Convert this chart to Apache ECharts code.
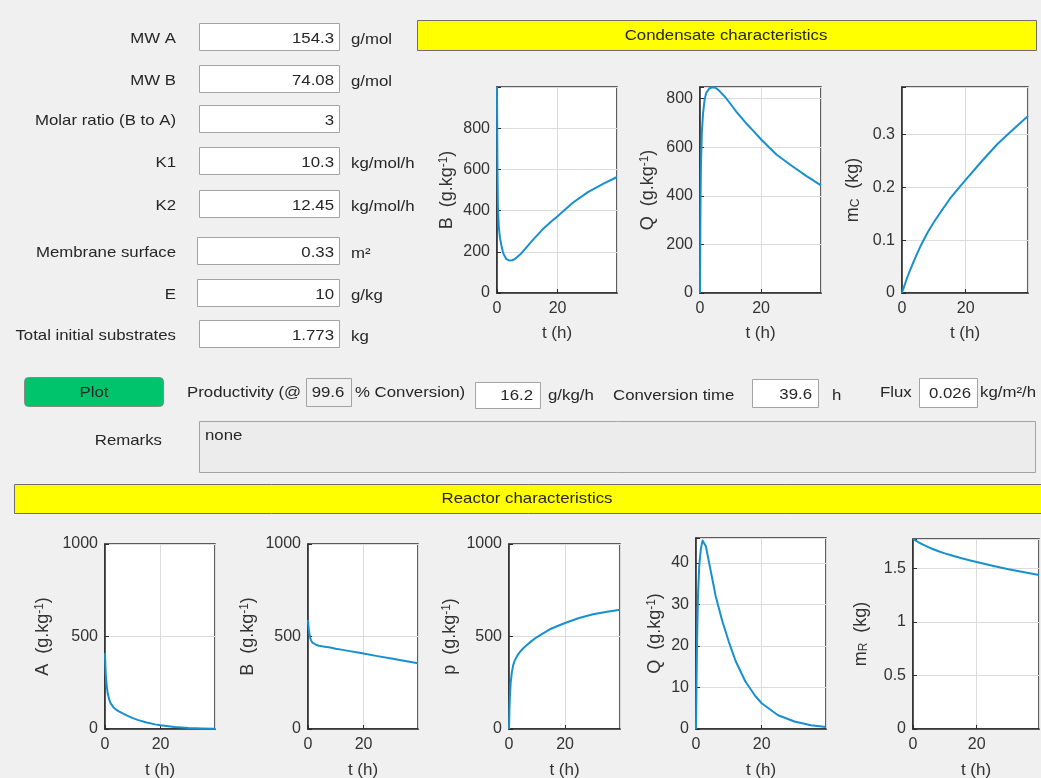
<!DOCTYPE html>
<html>
<head>
<meta charset="utf-8">
<script src="https://cdn.jsdelivr.net/npm/echarts@6/dist/echarts.min.js"></script>
<style>
html,body{margin:0;padding:0;background:#f0f0f0;}
#main{width:1041px;height:778px;}
</style>
</head>
<body>
<div id="main"></div>
<script>
// ---------------- DATA ----------------
const T = [0, 0.15, 0.3, 0.6, 1, 1.5, 2, 3, 4, 5, 6, 8, 10, 12, 15, 18, 20, 25, 30, 35, 39.6];
// Condensate characteristics
const condB  = [1000, 600, 420, 320, 265, 228, 195, 166, 158, 159, 166, 192, 226, 260, 308, 348, 373, 438, 490, 530, 563];
const condQ  = [0, 330, 520, 660, 740, 795, 822, 842, 847, 845, 836, 810, 778, 745, 700, 660, 632, 570, 524, 480, 443];
const condMC = [0, 0.003, 0.006, 0.011, 0.018, 0.027, 0.035, 0.05, 0.064, 0.078, 0.091, 0.114, 0.134, 0.152, 0.178, 0.2, 0.214, 0.249, 0.282, 0.31, 0.335];
// Reactor characteristics
const reactA  = [410, 340, 290, 235, 190, 160, 140, 118, 105, 95, 87, 72, 59, 48, 35, 25, 20, 11, 5, 2.5, 1];
const reactB  = [590, 560, 535, 505, 483, 468, 460, 454, 450, 447, 445, 440, 434, 429, 421, 413, 408, 394, 381, 368, 356];
const reactP  = [0, 100, 170, 250, 305, 345, 368, 398, 418, 435, 449, 475, 497, 516, 542, 561, 573, 600, 620, 634, 644];
const reactQ  = [0, 10, 20, 32, 39.5, 43.5, 45.4, 44, 40, 36, 32, 26, 21, 16.5, 11.5, 8, 6.2, 3.3, 1.8, 0.9, 0.5];
const reactMR = [1.773, 1.770, 1.767, 1.762, 1.755, 1.746, 1.738, 1.723, 1.709, 1.695, 1.682, 1.659, 1.639, 1.621, 1.595, 1.573, 1.559, 1.524, 1.491, 1.463, 1.438];
// Form texts
const formLabels = ['MW A', 'MW B', 'Molar ratio (B to A)', 'K1', 'K2', 'Membrane surface', 'E', 'Total initial substrates'];
const formValues = ['154.3', '74.08', '3', '10.3', '12.45', '0.33', '10', '1.773'];
const formUnits  = ['g/mol', 'g/mol', '', 'kg/mol/h', 'kg/mol/h', 'm²', 'g/kg', 'kg'];
const results = { conversion: '99.6', productivity: '16.2', convTime: '39.6', flux: '0.026', remarks: 'none' };

// ---------------- STYLE / LAYOUT ----------------
const FONT = '"Liberation Sans", Arial, Helvetica, sans-serif';
const SX = 1.12;
const TXT = '#262626';
const AX = '#2b2b2b';
const LINE = '#1790d0';

function txt(x, y, s, align) {
  return {
    type: 'text', x: x, y: y + 2, scaleX: SX, z: 10,
    style: { text: s, fontSize: 15, fontFamily: FONT, fill: TXT, align: align || 'left', verticalAlign: 'middle' }
  };
}
function box(x, y, w, h, fill, stroke, r) {
  return { type: 'rect', z: 5, shape: { x: x + 0.5, y: y + 0.5, width: w, height: h, r: r || 0 },
    style: { fill: fill, stroke: stroke || '#a3a3a3', lineWidth: 1 } };
}

const graphic = [];
const rowY   = [37, 79, 119, 161, 204, 251, 293, 334];
const boxX   = [199, 199, 199, 199, 199, 197, 197, 199];
formLabels.forEach((l, i) => {
  graphic.push(txt(176, rowY[i], l, 'right'));
  graphic.push(box(boxX[i], rowY[i] - 14, 339 - boxX[i], 27, '#ffffff'));
  graphic.push(txt(334, rowY[i], formValues[i], 'right'));
  if (formUnits[i]) graphic.push(txt(351, rowY[i] + 1, formUnits[i], 'left'));
});
// headers
graphic.push(box(417, 20, 619, 30, '#ffff00', '#6e6e6e'));
graphic.push(txt(726, 34, 'Condensate characteristics', 'center'));
graphic.push(box(14, 484, 1030, 29, '#ffff00', '#6e6e6e'));
graphic.push(txt(527, 497, 'Reactor characteristics', 'center'));
// plot button
graphic.push(box(24, 377, 139, 29, '#00c46b', '#8a8a8a', 4));
graphic.push(txt(94, 391, 'Plot', 'center'));
// results row
graphic.push(txt(187, 391, 'Productivity (@', 'left'));
graphic.push(box(306, 378, 45, 28, '#f0f0f0', '#a3a3a3'));
graphic.push(txt(328, 391, results.conversion, 'center'));
graphic.push(txt(355, 391, '% Conversion)', 'left'));
graphic.push(box(475, 382, 65, 26, '#ffffff'));
graphic.push(txt(533, 394, results.productivity, 'right'));
graphic.push(txt(548, 394, 'g/kg/h', 'left'));
graphic.push(txt(613, 394, 'Conversion time', 'left'));
graphic.push(box(752, 379, 66, 28, '#ffffff'));
graphic.push(txt(812, 393, results.convTime, 'right'));
graphic.push(txt(832, 394, 'h', 'left'));
graphic.push(txt(880, 391, 'Flux', 'left'));
graphic.push(box(919, 378, 58, 29, '#ffffff'));
graphic.push(txt(971, 392, results.flux, 'right'));
graphic.push(txt(980, 391, 'kg/m²/h', 'left'));
// remarks
graphic.push(txt(162, 439, 'Remarks', 'right'));
graphic.push(box(199, 421, 836, 51, '#ececec', '#a3a3a3'));
graphic.push(txt(205, 434, results.remarks, 'left'));

// ---------------- CHART PANELS ----------------
const panels = [
  { g: [497, 87, 120, 206], data: condB,  ymax: 1000,  yint: 200, labelMax: 800, name: '{n|B  (g.kg}{s|-1}{n|)}', gap: 41, xgap: 32 },
  { g: [700, 87, 121, 206], data: condQ,  ymax: 848,   yint: 200, labelMax: 800, name: '{n|Q  (g.kg}{s|-1}{n|)}', gap: 43, xgap: 32 },
  { g: [902, 87, 126, 206], data: condMC, ymax: 0.39,  yint: 0.1, labelMax: 0.3, name: '{n|m}{b|C}{n|  (kg)}', gap: 40, xgap: 32 },
  { g: [105, 544, 110, 185], data: reactA, ymax: 1000, yint: 500, labelMax: 1000, name: '{n|A  (g.kg}{s|-1}{n|)}', gap: 53, xgap: 33 },
  { g: [308, 544, 110, 185], data: reactB, ymax: 1000, yint: 500, labelMax: 1000, name: '{n|B  (g.kg}{s|-1}{n|)}', gap: 51, xgap: 33 },
  { g: [509, 544, 111, 185], data: reactP, ymax: 1000, yint: 500, labelMax: 1000, name: '{n|p  (g.kg}{s|-1}{n|)}', gap: 50, xgap: 33 },
  { g: [696, 538, 130, 191], data: reactQ, ymax: 46,   yint: 10,  labelMax: 40, name: '{n|Q  (g.kg}{s|-1}{n|)}', gap: 32, xgap: 33 },
  { g: [913, 539, 126, 190], data: reactMR, ymax: 1.773, yint: 0.5, labelMax: 1.5, name: '{n|m}{b|R}{n|  (kg)}', gap: 43, xgap: 33 }
];
const X_MAX = 39.6, X_INT = 20;

function fmtTick(interval, labelMax) {
  return function (v) {
    const k = v / interval;
    if (Math.abs(k - Math.round(k)) > 1e-6) return '';
    if (v > labelMax + 1e-9) return '';
    return String(parseFloat(v.toFixed(3)));
  };
}
const richName = {
  n: { fontSize: 18, fontFamily: FONT, color: '#333' },
  s: { fontSize: 12, fontFamily: FONT, color: '#333', verticalAlign: 'top' },
  b: { fontSize: 12, fontFamily: FONT, color: '#333', verticalAlign: 'bottom' }
};

const grids = [], xAxes = [], yAxes = [], series = [];
panels.forEach((p, i) => {
  grids.push({ left: p.g[0], top: p.g[1], width: p.g[2], height: p.g[3], containLabel: false,
    outerBoundsMode: 'none',
    show: true, backgroundColor: '#ffffff', borderColor: AX, borderWidth: 1.5 });
  xAxes.push({ type: 'value', gridIndex: i, min: 0, max: X_MAX, interval: X_INT,
    name: 't (h)', nameLocation: 'middle', nameGap: p.xgap,
    nameTextStyle: { fontSize: 17, fontFamily: FONT, color: '#333' },
    axisLine: { show: true, onZero: false, lineStyle: { color: AX, width: 1.5 } },
    axisTick: { show: true, inside: true, length: 4, lineStyle: { color: AX } },
    axisLabel: { fontSize: 16, fontFamily: FONT, color: '#333', margin: 8, formatter: fmtTick(X_INT, 20), showMaxLabel: false },
    splitLine: { show: true, lineStyle: { color: '#dcdcdc', width: 1 } } });
  yAxes.push({ type: 'value', gridIndex: i, min: 0, max: p.ymax, interval: p.yint,
    name: p.name, nameLocation: 'middle', nameRotate: 90, nameGap: p.gap,
    nameTextStyle: { fontSize: 18, fontFamily: FONT, color: '#333', rich: richName },
    axisLine: { show: true, onZero: false, lineStyle: { color: AX, width: 1.5 } },
    axisTick: { show: true, inside: true, length: 4, lineStyle: { color: AX } },
    axisLabel: { fontSize: 16, fontFamily: FONT, color: '#333', margin: 7, formatter: fmtTick(p.yint, p.labelMax) },
    splitLine: { show: true, lineStyle: { color: '#dcdcdc', width: 1 } } });
  series.push({ type: 'line', xAxisIndex: i, yAxisIndex: i, showSymbol: false, symbol: 'none',
    smooth: false, animation: false,
    lineStyle: { color: LINE, width: 2, join: 'round' },
    data: T.map((t, k) => [t, p.data[k]]) });
});

const chart = echarts.init(document.getElementById('main'), null, { renderer: 'canvas' });
chart.setOption({
  backgroundColor: '#f0f0f0',
  animation: false,
  grid: grids, xAxis: xAxes, yAxis: yAxes, series: series,
  graphic: graphic
});
</script>
</body>
</html>
